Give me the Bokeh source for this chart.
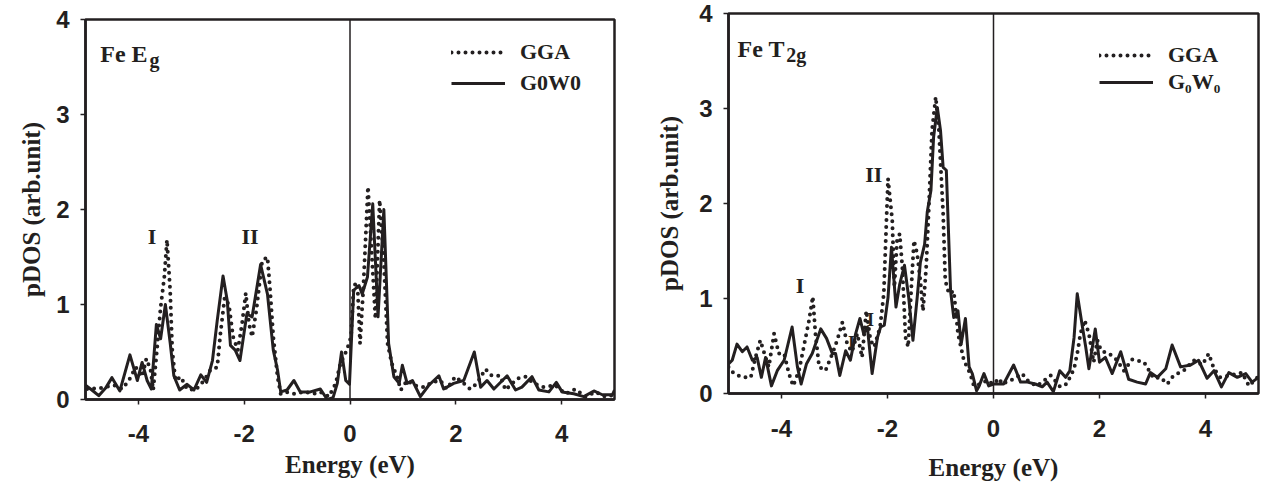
from bokeh.plotting import figure
from bokeh.layouts import row
from bokeh.models import Range1d, FixedTicker, Span, Label, Legend, LegendItem
from bokeh.embed import file_html
from bokeh.resources import INLINE

# ---------------- data ----------------
x_ticks = [-4, -2, 0, 2, 4]
y_ticks = [0, 1, 2, 3, 4]

# Fe Eg panel
eg_gga_x = [-4.97, -4.72, -4.46, -4.31, -4.18, -4.05, -3.93, -3.85, -3.77, -3.72, -3.65, -3.58, -3.51, -3.46,
            -3.40, -3.36, -3.30, -3.20, -3.08, -2.92, -2.76, -2.64, -2.51, -2.45, -2.37, -2.29, -2.21, -2.12,
            -2.04, -1.97, -1.91, -1.85, -1.77, -1.66, -1.56, -1.51, -1.45, -1.37, -1.31, -1.22, -1.06, -0.87,
            -0.68, -0.56, -0.40, -0.27, -0.18, -0.06, 0.02, 0.07, 0.14, 0.19, 0.25, 0.34, 0.48, 0.56, 0.64,
            0.71, 0.79, 0.89, 0.96, 1.08, 1.21, 1.40, 1.55, 1.71, 1.83, 1.99, 2.15, 2.27, 2.40, 2.56, 2.68,
            2.84, 2.94, 3.16, 3.32, 3.47, 3.66, 3.88, 4.07, 4.26, 4.45, 4.64, 4.83, 4.99]
eg_gga_y = [0.11, 0.12, 0.15, 0.11, 0.20, 0.34, 0.24, 0.43, 0.31, 0.10, 0.52, 0.97, 1.29, 1.68,
            1.15, 0.52, 0.20, 0.24, 0.11, 0.10, 0.20, 0.31, 0.34, 0.69, 1.07, 1.00, 0.66, 0.52,
            0.80, 1.12, 0.80, 0.66, 0.94, 1.46, 1.50, 1.15, 0.66, 0.24, 0.06, 0.08, 0.06, 0.08,
            0.06, 0.08, 0.03, 0.17, 0.38, 0.52, 0.66, 1.20, 1.23, 0.59, 1.15, 2.24, 0.85, 2.10, 1.44,
            0.59, 0.38, 0.24, 0.10, 0.20, 0.15, 0.13, 0.18, 0.20, 0.11, 0.24, 0.17, 0.11, 0.17, 0.32, 0.25,
            0.25, 0.10, 0.22, 0.24, 0.17, 0.13, 0.15, 0.06, 0.11, 0.03, 0.08, 0.03, 0.05]

eg_gw_x = [-5.00, -4.88, -4.75, -4.62, -4.50, -4.35, -4.16, -4.02, -3.93, -3.835, -3.755, -3.66, -3.58, -3.49,
           -3.40, -3.33, -3.22, -3.08, -2.95, -2.82, -2.71, -2.60, -2.51, -2.40, -2.32, -2.26, -2.17, -2.08,
           -1.95, -1.85, -1.69, -1.56, -1.45, -1.37, -1.31, -1.19, -1.06, -0.94, -0.75, -0.56, -0.43, -0.32,
           -0.24, -0.16, -0.08, -0.01, 0.07, 0.17, 0.23, 0.33, 0.43, 0.53, 0.64, 0.73, 0.83, 0.93, 0.99,
           1.08, 1.18, 1.33, 1.49, 1.68, 1.77, 1.96, 2.15, 2.35, 2.47, 2.59, 2.72, 2.97, 3.13, 3.25, 3.44,
           3.57, 3.76, 3.90, 4.01, 4.23, 4.42, 4.61, 4.77, 4.96, 5.00]
eg_gw_y = [0.15, 0.10, 0.04, 0.12, 0.23, 0.09, 0.47, 0.20, 0.39, 0.20, 0.11, 0.79, 0.64, 1.00,
           0.60, 0.25, 0.10, 0.16, 0.10, 0.26, 0.18, 0.41, 0.83, 1.30, 1.04, 0.57, 0.52, 0.41,
           0.90, 0.87, 1.42, 1.11, 0.52, 0.31, 0.08, 0.10, 0.20, 0.08, 0.08, 0.11, 0.00, 0.02,
           0.17, 0.50, 0.20, 0.16, 1.15, 1.20, 1.11, 1.29, 2.06, 0.87, 2.00, 0.59, 0.24, 0.17, 0.36,
           0.17, 0.20, 0.03, 0.15, 0.25, 0.11, 0.17, 0.20, 0.50, 0.13, 0.20, 0.11, 0.25, 0.10, 0.13, 0.24,
           0.10, 0.08, 0.18, 0.08, 0.06, 0.03, 0.09, 0.05, 0.05, 0.10]

# Fe T2g panel
t2g_gga_x = [-5.00, -4.90, -4.74, -4.58, -4.49, -4.40, -4.30, -4.24, -4.14, -4.05, -3.95, -3.86, -3.78, -3.67,
             -3.58, -3.48, -3.41, -3.36, -3.29, -3.17, -3.04, -2.95, -2.85, -2.76, -2.67, -2.57, -2.48, -2.40,
             -2.32, -2.25, -2.14, -2.07, -2.02, -1.99, -1.91, -1.87, -1.82, -1.77, -1.72, -1.66, -1.61, -1.55,
             -1.50, -1.44, -1.38, -1.33, -1.27, -1.22, -1.16, -1.09, -1.03, -0.95, -0.91, -0.84, -0.75, -0.67,
             -0.56, -0.44, -0.37, -0.24, -0.12, -0.01, 0.11, 0.16, 0.41, 0.54, 0.67, 0.82, 1.08, 1.26, 1.38,
             1.52, 1.59, 1.64, 1.72, 1.80, 1.89, 1.96, 2.03, 2.18, 2.33, 2.46, 2.62, 2.84, 3.02, 3.15, 3.28,
             3.40, 3.59, 3.78, 3.94, 4.06, 4.16, 4.28, 4.47, 4.69, 4.82, 4.98]
t2g_gga_y = [0.28, 0.21, 0.17, 0.17, 0.38, 0.56, 0.38, 0.28, 0.63, 0.42, 0.42, 0.21, 0.08, 0.24,
             0.49, 0.77, 1.02, 0.63, 0.28, 0.24, 0.42, 0.56, 0.75, 0.52, 0.44, 0.63, 0.38, 0.87,
             0.56, 0.49, 0.70, 1.05, 1.82, 2.26, 1.82, 1.12, 1.61, 1.68, 1.33, 0.59, 0.49, 1.12,
             1.61, 1.47, 1.19, 0.87, 1.33, 1.96, 2.77, 3.12, 2.77, 1.89, 1.19, 1.05, 1.08, 0.63,
             0.35, 0.21, 0.08, 0.10, 0.14, 0.10, 0.16, 0.10, 0.16, 0.21, 0.12, 0.08, 0.19, 0.07, 0.10,
             0.26, 0.45, 0.63, 0.77, 0.63, 0.33, 0.56, 0.45, 0.42, 0.35, 0.24, 0.36, 0.33, 0.16, 0.17, 0.10,
             0.19, 0.24, 0.35, 0.30, 0.42, 0.26, 0.17, 0.19, 0.22, 0.08, 0.17]

t2g_gw_x = [-5.00, -4.93, -4.84, -4.74, -4.65, -4.55, -4.46, -4.38, -4.30, -4.19, -4.08, -3.95, -3.80, -3.70,
            -3.63, -3.53, -3.42, -3.26, -3.15, -3.04, -2.98, -2.90, -2.79, -2.70, -2.60, -2.52, -2.45, -2.38,
            -2.29, -2.19, -2.13, -2.06, -1.99, -1.925, -1.84, -1.77, -1.68, -1.60, -1.52, -1.44, -1.38, -1.30,
            -1.25, -1.18, -1.13, -1.06, -1.00, -0.95, -0.89, -0.81, -0.75, -0.67, -0.61, -0.53, -0.46, -0.40,
            -0.32, -0.27, -0.18, -0.09, 0.00, 0.19, 0.38, 0.51, 0.64, 0.79, 0.92, 1.01, 1.13, 1.25, 1.36,
            1.44, 1.52, 1.58, 1.67, 1.74, 1.80, 1.92, 2.00, 2.11, 2.24, 2.40, 2.55, 2.71, 2.87, 2.96, 3.09,
            3.25, 3.37, 3.53, 3.72, 3.87, 4.03, 4.16, 4.30, 4.44, 4.60, 4.76, 4.88, 5.00]
t2g_gw_y = [0.31, 0.35, 0.52, 0.44, 0.49, 0.35, 0.38, 0.17, 0.38, 0.08, 0.24, 0.35, 0.70, 0.28,
            0.10, 0.31, 0.42, 0.68, 0.58, 0.42, 0.42, 0.19, 0.45, 0.35, 0.63, 0.79, 0.63, 0.70,
            0.21, 0.59, 0.70, 0.72, 1.01, 1.54, 0.91, 1.15, 1.35, 1.01, 0.56, 1.01, 1.38, 1.57,
            1.91, 2.14, 2.70, 3.01, 2.77, 2.38, 2.35, 1.08, 0.80, 0.87, 0.52, 0.79, 0.28, 0.21,
            0.03, 0.08, 0.21, 0.08, 0.10, 0.10, 0.30, 0.12, 0.12, 0.10, 0.07, 0.12, 0.02, 0.24, 0.17,
            0.24, 0.59, 1.05, 0.73, 0.49, 0.26, 0.68, 0.33, 0.38, 0.21, 0.44, 0.15, 0.12, 0.10, 0.22, 0.17,
            0.26, 0.51, 0.28, 0.30, 0.35, 0.16, 0.24, 0.07, 0.22, 0.17, 0.21, 0.12, 0.17]

series_labels_eg = ["GGA", "G0W0"]
series_labels_t2g = ["GGA", "G\u2080W\u2080"]

# ---------------- styling ----------------
INK = "#231f20"
SANS = "Liberation Sans"
SERIF = "Liberation Serif"


def make_panel(width, mb_left, mb_right, tick_standoff, xlab_standoff, ylab_standoff,
               gga_x, gga_y, gw_x, gw_y, labels, legend_loc, legend_spacing, margin):
    p = figure(width=width, height=483, output_backend="svg", toolbar_location=None,
               x_range=Range1d(-5, 5), y_range=Range1d(0, 4),
               min_border_left=mb_left, min_border_right=mb_right,
               min_border_top=13, min_border_bottom=90, margin=margin)
    p.xgrid.visible = False
    p.ygrid.visible = False
    p.background_fill_color = "white"
    p.border_fill_color = "white"
    p.outline_line_color = INK
    p.outline_line_width = 2.5
    p.outline_line_alpha = 1.0

    p.xaxis.ticker = FixedTicker(ticks=x_ticks)
    p.yaxis.ticker = FixedTicker(ticks=y_ticks)
    p.xaxis.major_label_overrides = {t: str(t) for t in x_ticks}
    for ax in (p.xaxis, p.yaxis):
        ax.axis_line_color = INK
        ax.axis_line_width = 2.5
        ax.major_tick_line_color = INK
        ax.major_tick_line_width = 1.5
        ax.major_tick_in = 0
        ax.major_tick_out = 5
        ax.minor_tick_line_color = None
        ax.major_label_text_font = SANS
        ax.major_label_text_font_style = "bold"
        ax.major_label_text_font_size = "24px"
        ax.major_label_text_color = INK
        ax.axis_label_text_font = SERIF
        ax.axis_label_text_font_style = "bold"
        ax.axis_label_text_font_size = "25px"
        ax.axis_label_text_color = INK
    p.xaxis.axis_label = "Energy (eV)"
    p.yaxis.axis_label = "pDOS (arb.unit)"
    p.xaxis.major_label_standoff = tick_standoff
    p.yaxis.major_label_standoff = 11
    p.xaxis.axis_label_standoff = xlab_standoff
    p.yaxis.axis_label_standoff = ylab_standoff

    p.add_layout(Span(location=0, dimension="height", line_color=INK, line_width=1.5))

    gga = p.line(gga_x, gga_y, line_color=INK, line_width=4, line_dash="0 7",
                 line_cap="round", line_join="round")
    gw = p.line(gw_x, gw_y, line_color=INK, line_width=3, line_join="round")

    legend = Legend(items=[LegendItem(label=labels[0], renderers=[gga]),
                           LegendItem(label=labels[1], renderers=[gw])],
                    location=legend_loc, orientation="vertical",
                    border_line_color=None, background_fill_alpha=0.0,
                    padding=0, margin=0, spacing=legend_spacing,
                    glyph_width=54, glyph_height=24, label_height=24,
                    label_standoff=15, label_text_font=SERIF,
                    label_text_font_style="bold", label_text_font_size="22px",
                    label_text_color=INK)
    p.add_layout(legend)
    return p


def add_text(p, x, y, text, size, align="left", baseline="alphabetic"):
    p.add_layout(Label(x=x, y=y, text=text, text_font=SERIF, text_font_style="bold",
                       text_font_size=size, text_color=INK, text_align=align,
                       text_baseline=baseline))


p1 = make_panel(640, 85, 26, 20, 6, 8, eg_gga_x, eg_gga_y, eg_gw_x, eg_gw_y,
                series_labels_eg, (366, 303), 5, (6, 0, 0, 0))
add_text(p1, -4.72, 3.64, "Fe E", "24px")
add_text(p1, -3.79, 3.57, "g", "20px")
add_text(p1, -3.74, 1.72, "I", "22px", "center", "middle")
add_text(p1, -1.89, 1.72, "II", "22px", "center", "middle")

p2 = make_panel(621, 88, 3, 21, 14, 13, t2g_gga_x, t2g_gga_y, t2g_gw_x, t2g_gw_y,
                series_labels_t2g, (371, 298), 1, (0, 0, 0, 0))
add_text(p2, -4.83, 3.63, "Fe T", "24px")
add_text(p2, -3.91, 3.56, "2g", "20px")
add_text(p2, -3.65, 1.14, "I", "22px", "center", "middle")
add_text(p2, -2.26, 2.31, "II", "22px", "center", "middle")
add_text(p2, -2.32, 0.77, "I", "18px", "center", "middle")
add_text(p2, -2.68, 0.53, "I", "18px", "center", "middle")

layout = row(p1, p2)
open("out.html", "w").write(file_html(layout, INLINE))
